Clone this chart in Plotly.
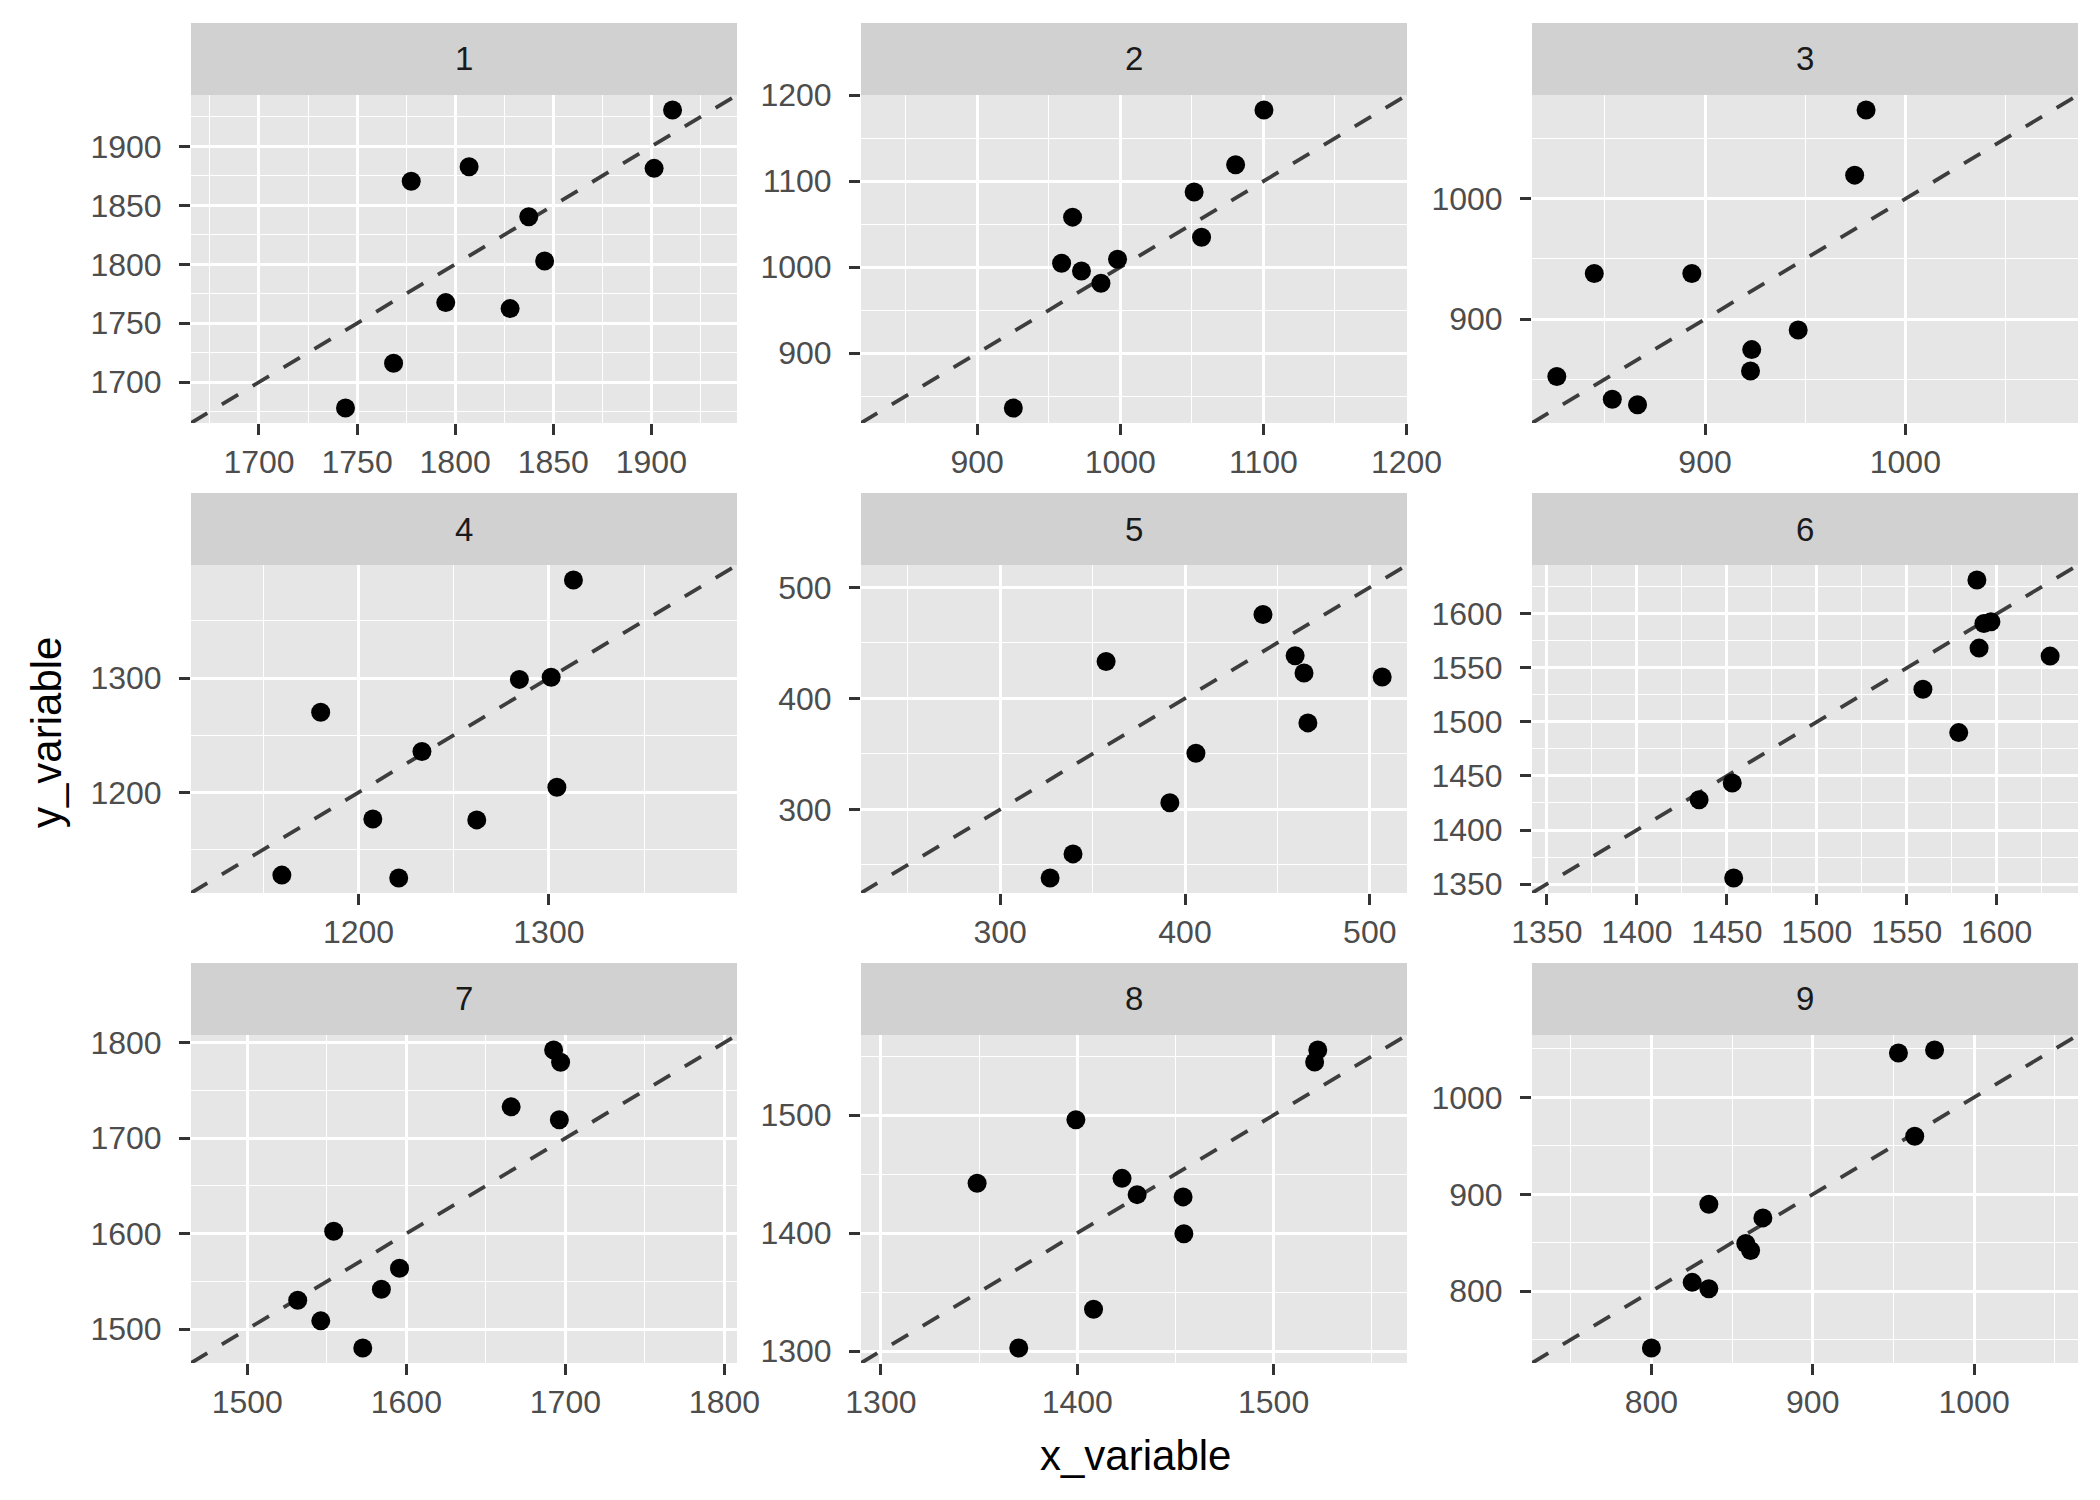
import plotly.graph_objects as go

# values, one pair of lists per facet
x1 = [1744.1, 1768.6, 1777.6, 1795.2, 1807.1, 1828.0, 1837.5, 1845.6, 1901.4, 1910.8]
y1 = [1678.0, 1716.1, 1870.4, 1767.5, 1882.8, 1762.4, 1840.4, 1802.8, 1881.4, 1931.0]

x2 = [925.3, 959.0, 966.7, 972.9, 986.5, 998.1, 1051.6, 1056.8, 1080.6, 1100.4]
y2 = [836.2, 1004.6, 1058.3, 995.7, 981.4, 1009.3, 1087.6, 1034.8, 1119.3, 1183.0]

x3 = [826.0, 844.7, 853.7, 866.3, 893.4, 922.7, 923.3, 946.5, 974.7, 980.4]
y3 = [852.2, 937.8, 833.4, 828.7, 937.8, 856.9, 874.6, 890.9, 1019.6, 1073.8]

x4 = [1159.7, 1180.1, 1207.5, 1221.1, 1233.3, 1262.1, 1284.5, 1301.2, 1304.2, 1312.9]
y4 = [1127.6, 1270.1, 1176.7, 1125.0, 1235.8, 1175.9, 1298.8, 1300.6, 1204.4, 1385.8]

x5 = [327.0, 339.4, 357.3, 391.8, 405.9, 442.2, 459.6, 464.4, 466.5, 506.7]
y5 = [238.1, 259.9, 433.2, 306.0, 350.6, 475.5, 438.4, 422.8, 377.9, 419.3]

x6 = [1434.6, 1453.0, 1453.8, 1559.0, 1578.9, 1589.0, 1590.2, 1592.9, 1596.8, 1629.7]
y6 = [1428.0, 1443.4, 1355.5, 1530.2, 1490.1, 1631.4, 1568.3, 1591.1, 1592.6, 1560.9]

x7 = [1531.7, 1546.2, 1554.3, 1572.6, 1584.3, 1595.7, 1665.9, 1692.6, 1697.0, 1696.2]
y7 = [1530.3, 1508.7, 1602.4, 1480.2, 1541.8, 1563.7, 1732.7, 1792.3, 1779.4, 1719.2]

x8 = [1349.0, 1370.2, 1399.3, 1408.3, 1422.8, 1430.5, 1453.9, 1454.3, 1520.9, 1522.5]
y8 = [1442.2, 1302.5, 1496.1, 1335.5, 1446.4, 1432.6, 1430.7, 1399.4, 1545.1, 1555.3]

x9 = [800.0, 825.3, 835.6, 835.6, 858.5, 861.5, 869.1, 953.1, 963.2, 975.5]
y9 = [741.4, 809.2, 802.7, 889.7, 849.3, 842.1, 875.7, 1045.9, 959.9, 1049.0]

facet_labels = ["1", "2", "3", "4", "5", "6", "7", "8", "9"]
major_step = [50, 100, 100, 100, 100, 50, 100, 100, 100]

panels = [(x1, y1), (x2, y2), (x3, y3), (x4, y4), (x5, y5),
          (x6, y6), (x7, y7), (x8, y8), (x9, y9)]

# the page body adds an 8px margin, so the figure is drawn 8px smaller
# and every position is measured from that offset
OFF = 8
W, H = 2100 - OFF, 1500 - OFF
col_left = [191 - OFF, 861 - OFF, 1532 - OFF]
panel_w = 546
row_top = [95 - OFF, 565 - OFF, 1035 - OFF]
panel_h = 328
strip_h = 72

font = "Liberation Sans, Arial, sans-serif"
fig = go.Figure()
shapes = []
annotations = []

for i, (xs, ys) in enumerate(panels):
    r, c = divmod(i, 3)
    n = i + 1
    xa = "x" if n == 1 else f"x{n}"
    ya = "y" if n == 1 else f"y{n}"

    # same limits on both axes, ggplot-style 5% expansion
    lo = min(min(xs), min(ys))
    hi = max(max(xs), max(ys))
    pad = (hi - lo) * 0.05
    rng = [lo - pad, hi + pad]

    fig.add_trace(go.Scatter(
        x=rng, y=rng, mode="lines", xaxis=xa, yaxis=ya,
        line=dict(color="#3D3D3D", width=3.8, dash="19px,17px"),
        hoverinfo="skip", showlegend=False,
    ))
    fig.add_trace(go.Scatter(
        x=xs, y=ys, mode="markers", xaxis=xa, yaxis=ya,
        marker=dict(color="black", size=19, line=dict(width=0)),
        showlegend=False,
    ))

    x0 = col_left[c] / W
    x1d = (col_left[c] + panel_w) / W
    y1d = 1 - row_top[r] / H
    y0 = 1 - (row_top[r] + panel_h) / H

    step = major_step[i]
    axis_common = dict(
        range=rng, tickmode="linear", tick0=0, dtick=step,
        showgrid=True, gridcolor="white", gridwidth=2.8,
        minor=dict(tick0=0, dtick=step / 2, showgrid=True,
                   gridcolor="white", gridwidth=1.4, ticks=""),
        ticks="outside", ticklen=11, tickwidth=3, tickcolor="#333333",
        tickfont=dict(family=font, size=32, color="#4D4D4D"),
        zeroline=False, showline=False, fixedrange=True,
        automargin=False,
    )
    fig.update_layout({
        ("xaxis" if n == 1 else f"xaxis{n}"): dict(axis_common, domain=[x0, x1d],
                                                   anchor=ya, ticklabelstandoff=0),
        ("yaxis" if n == 1 else f"yaxis{n}"): dict(axis_common, domain=[y0, y1d],
                                                   anchor=xa, ticklabelstandoff=11),
    })

    # facet strip
    st_top = 1 - (row_top[r] - strip_h) / H
    shapes.append(dict(type="rect", xref="paper", yref="paper",
                       x0=x0, x1=x1d, y0=y1d, y1=st_top,
                       fillcolor="#D1D1D1", line=dict(width=0), layer="below"))
    annotations.append(dict(xref="paper", yref="paper",
                            x=(x0 + x1d) / 2, y=(y1d + st_top) / 2,
                            text=facet_labels[i], showarrow=False,
                            xanchor="center", yanchor="middle",
                            font=dict(family=font, size=33, color="#1A1A1A")))

annotations.append(dict(xref="paper", yref="paper", x=(1135 - OFF) / W,
                        y=1 - (1455 - OFF) / H,
                        text="x_variable", showarrow=False,
                        xanchor="center", yanchor="middle",
                        font=dict(family=font, size=42, color="black")))
annotations.append(dict(xref="paper", yref="paper", x=(47 - OFF) / W,
                        y=1 - (733 - OFF) / H,
                        text="y_variable", showarrow=False, textangle=-90,
                        xanchor="center", yanchor="middle",
                        font=dict(family=font, size=42, color="black")))

fig.update_layout(
    width=W, height=H,
    margin=dict(l=0, r=0, t=0, b=0, autoexpand=False),
    paper_bgcolor="white",
    plot_bgcolor="#E6E6E6",
    shapes=shapes,
    annotations=annotations,
    showlegend=False,
)

fig.write_html("out.html")
